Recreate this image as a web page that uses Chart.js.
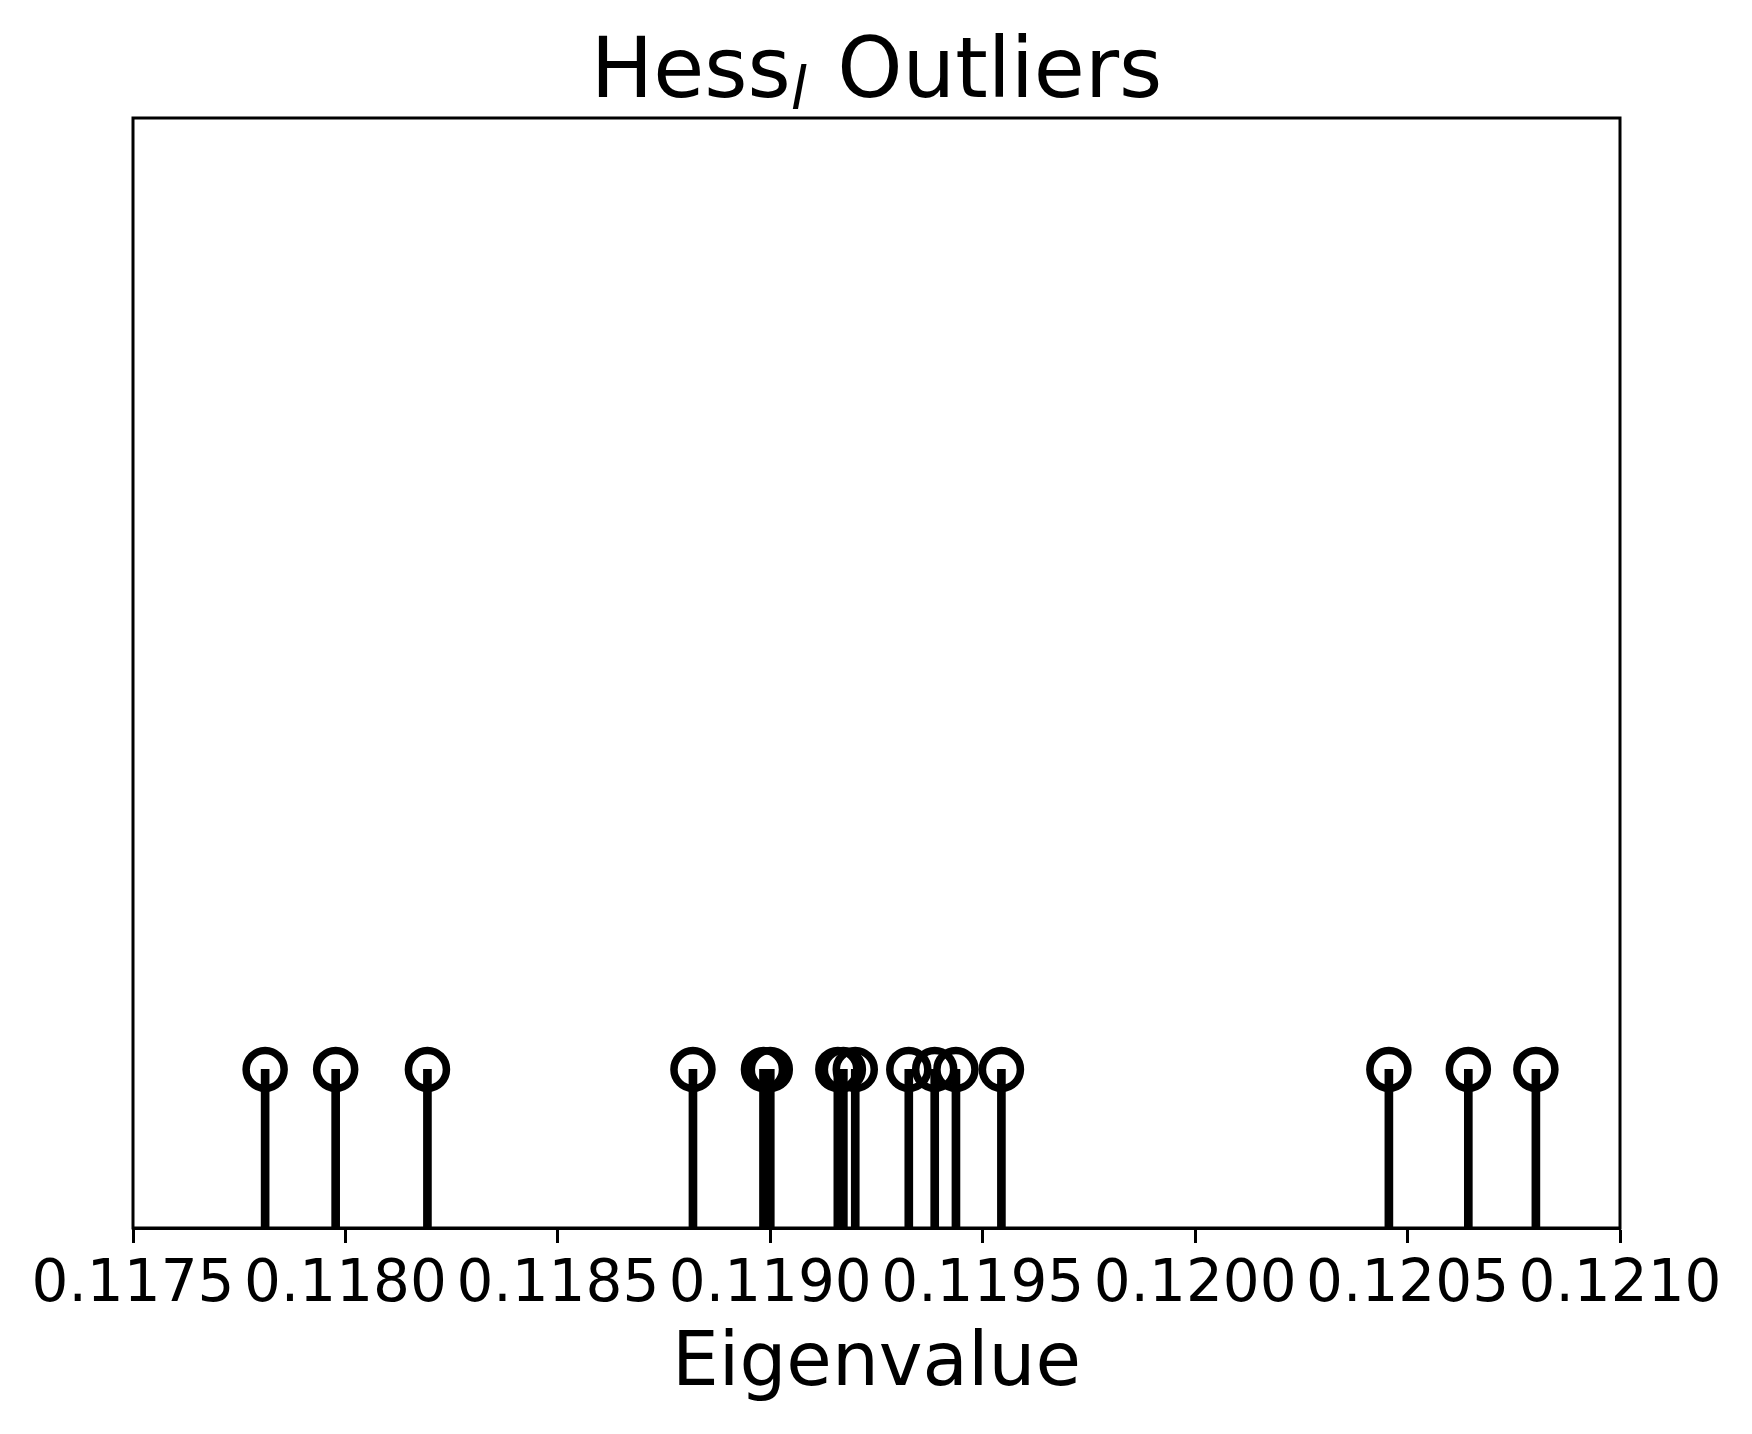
<!DOCTYPE html>
<html>
<head>
<meta charset="utf-8">
<script src="https://cdn.jsdelivr.net/npm/chart.js@4"></script>
<style>
  html, body { margin: 0; padding: 0; background: #fff; }
  canvas { display: block; }
</style>
</head>
<body>
<canvas id="stemChart" width="1752" height="1434"></canvas>
<script>
// eigenvalues
const eigenvalues = [
  0.117811, 0.117977, 0.118193, 0.118818, 0.118984, 0.119000,
  0.119159, 0.119172, 0.119200, 0.119326, 0.119387, 0.119437,
  0.119544, 0.120456, 0.120643, 0.120802,
];
const stemHeights = eigenvalues.map(() => 1);
const tickValues = [0.1175, 0.118, 0.1185, 0.119, 0.1195, 0.12, 0.1205, 0.121];

const titleMain = "Hess";
const titleSub = "l";
const titleRest = " Outliers";
const xTitle = "Eigenvalue";

const FONT = "'DejaVu Sans', sans-serif";

// box round the plot area, and the title with its subscript
const framePlugin = {
  id: "frame",
  afterDraw(chart) {
    const { ctx, chartArea } = chart;
    ctx.save();
    ctx.strokeStyle = "#000";
    ctx.lineWidth = 3;
    ctx.strokeRect(chartArea.left, chartArea.top, chartArea.width, chartArea.height);

    const big = "83px " + FONT;
    const small = "italic 58px " + FONT;
    ctx.font = big;
    const w1 = ctx.measureText(titleMain).width;
    const w3 = ctx.measureText(titleRest).width;
    ctx.font = small;
    const w2 = ctx.measureText(titleSub).width + 4;
    const total = w1 + w2 + w3;
    let x = (chartArea.left + chartArea.right) / 2 - total / 2;
    const base = 97;
    ctx.fillStyle = "#000";
    ctx.textBaseline = "alphabetic";
    ctx.textAlign = "left";
    ctx.font = big;
    ctx.fillText(titleMain, x, base);
    x += w1;
    ctx.font = small;
    ctx.fillText(titleSub, x, base + 12);
    x += w2;
    ctx.font = big;
    ctx.fillText(titleRest, x, base);
    ctx.restore();
  },
};

const chart = new Chart(document.getElementById("stemChart"), {
  type: "bar",
  data: {
    datasets: [
      {
        type: "scatter",
        data: eigenvalues.map((v, i) => ({ x: v, y: stemHeights[i] })),
        pointRadius: 19,
        pointHoverRadius: 19,
        pointBorderWidth: 7.5,
        pointBorderColor: "#000",
        pointBackgroundColor: "rgba(0,0,0,0)",
        order: 1,
      },
      {
        type: "bar",
        data: eigenvalues.map((v, i) => ({ x: v, y: stemHeights[i] })),
        backgroundColor: "#000",
        barThickness: 8,
        order: 2,
      },
    ],
  },
  options: {
    responsive: false,
    devicePixelRatio: 1,
    animation: false,
    layout: {
      padding: { left: 133, right: 132, top: 118, bottom: 0 },
    },
    plugins: {
      legend: { display: false },
      tooltip: { enabled: false },
    },
    scales: {
      x: {
        type: "linear",
        min: 0.1175,
        max: 0.121,
        offset: false,
        afterBuildTicks: (scale) => {
          scale.ticks = tickValues.map((v) => ({ value: v }));
        },
        afterFit: (scale) => {
          scale.height = 206;
        },
        grid: {
          display: true,
          offset: false,
          drawOnChartArea: false,
          drawTicks: true,
          tickLength: 15,
          tickWidth: 3,
          tickColor: "#000",
        },
        border: { display: true, width: 3, color: "#000" },
        ticks: {
          color: "#000",
          padding: 8,
          maxRotation: 0,
          autoSkip: false,
          font: { family: FONT, size: 58 },
          callback: (v) => Number(v).toFixed(4),
        },
        title: {
          display: true,
          text: xTitle,
          color: "#000",
          padding: { top: 0, bottom: 24 },
          font: { family: FONT, size: 74 },
        },
      },
      y: {
        display: false,
        min: 0,
        max: 7,
      },
    },
  },
  plugins: [framePlugin],
});
</script>
</body>
</html>
